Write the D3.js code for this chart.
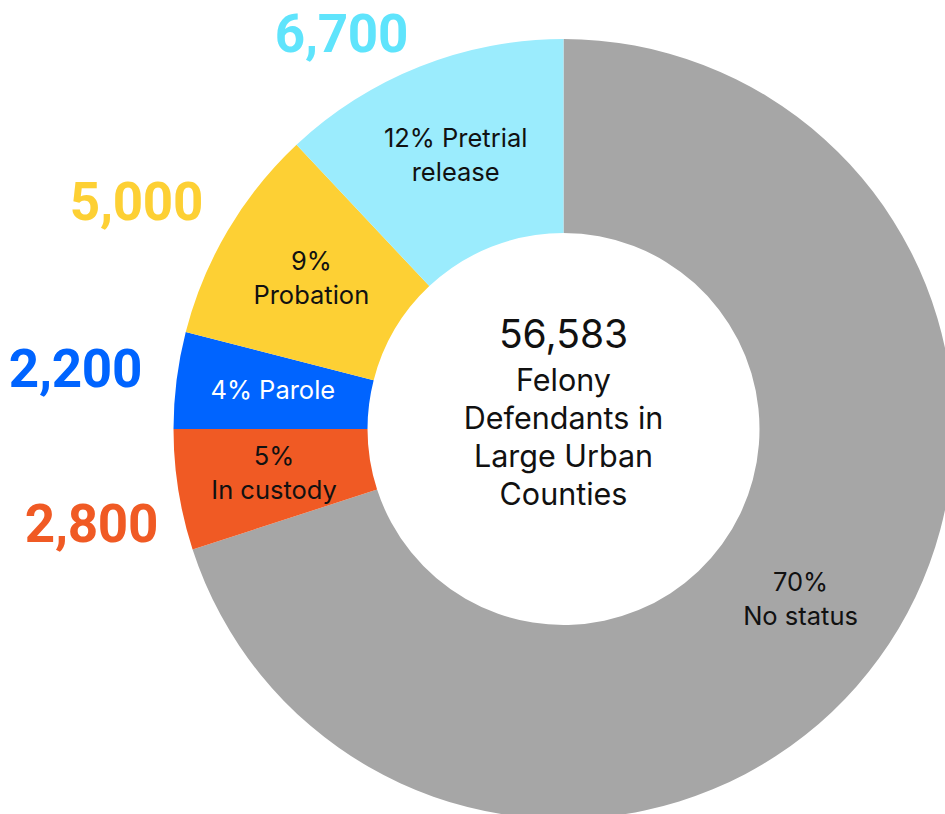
<!DOCTYPE html>
<html>
<head>
<meta charset="utf-8">
<script src="https://cdn.jsdelivr.net/npm/d3@7"></script>
<style>
  html, body { margin: 0; padding: 0; background: #ffffff; }
  svg { display: block; overflow: hidden; }
</style>
</head>
<body>
<svg id="chart" width="945" height="814"></svg>
<script>
// Status of felony defendants, drawn clockwise from 12 o'clock
const categories = ["No status", "In custody", "Parole", "Probation", "Pretrial release"];
const percents   = [70, 5, 4, 9, 12];
const counts     = [39883, 2800, 2200, 5000, 6700];
const sliceLabels = [["70%", "No status"], ["5%", "In custody"], ["4% Parole"], ["9%", "Probation"], ["12% Pretrial", "release"]];
const fillColors  = ["#a6a6a6", "#f05a24", "#0064ff", "#fdd034", "#9becfd"];
const countColors = [null, "#f05a24", "#0064ff", "#fdd034", "#5fe4fc"];
const textColors  = ["#111111", "#111111", "#ffffff", "#111111", "#111111"];
const totalCount = 56583;
const centerLines = ["Felony", "Defendants in", "Large Urban", "Counties"];

// layout
const cx = 563.5, cy = 429;
const outerR = 390, innerR = 196;
// where each outside count label ends (text-anchor end, baseline)
const countAnchors = [null, [158, 542], [142, 387], [203, 220], [408, 52]];

const svg = d3.select("#chart");
const g = svg.append("g").attr("transform", `translate(${cx},${cy})`);

const data = categories.map((c, i) => ({ name: c, pct: percents[i], count: counts[i], i }));

const pie = d3.pie().sort(null).value(d => d.pct);
const arc = d3.arc().innerRadius(innerR).outerRadius(outerR);
const arcs = pie(data);

g.selectAll("path.slice")
  .data(arcs)
  .join("path")
  .attr("class", "slice")
  .attr("d", arc)
  .attr("fill", d => fillColors[d.data.i]);

// labels inside each slice
const bodyFont = "Inter, 'Noto Sans', sans-serif";
arcs.forEach(a => {
  const [x, y] = arc.centroid(a);
  const lines = sliceLabels[a.data.i];
  const t = g.append("text")
    .attr("text-anchor", "middle")
    .attr("font-family", bodyFont)
    .attr("font-size", 25.5)
    .attr("fill", textColors[a.data.i]);
  if (lines.length === 1) {
    t.append("tspan").attr("x", x).attr("y", y + 7).text(lines[0]);
  } else {
    t.append("tspan").attr("x", x).attr("y", y - 10).text(lines[0]);
    t.append("tspan").attr("x", x).attr("y", y + 24).text(lines[1]);
  }
});

// large count labels outside the ring
const fmt = d3.format(",");
data.forEach(d => {
  const p = countAnchors[d.i];
  if (!p) return;
  svg.append("text")
    .attr("x", p[0]).attr("y", p[1])
    .attr("text-anchor", "end")
    .attr("font-family", "Roboto, sans-serif")
    .attr("font-weight", 700)
    .attr("font-size", 53)
    .attr("letter-spacing", -0.3)
    .attr("fill", countColors[d.i])
    .text(fmt(d.count));
});

// centre total
const center = g.append("text")
  .attr("text-anchor", "middle")
  .attr("font-family", bodyFont)
  .attr("fill", "#111111");
center.append("tspan").attr("x", 0).attr("y", 348.3 - cy).attr("font-size", 39).text(fmt(totalCount));
centerLines.forEach((line, k) => {
  center.append("tspan")
    .attr("x", 0)
    .attr("y", 390.7 - cy + k * 38.1)
    .attr("font-size", 30.5)
    .text(line);
});
</script>
</body>
</html>
